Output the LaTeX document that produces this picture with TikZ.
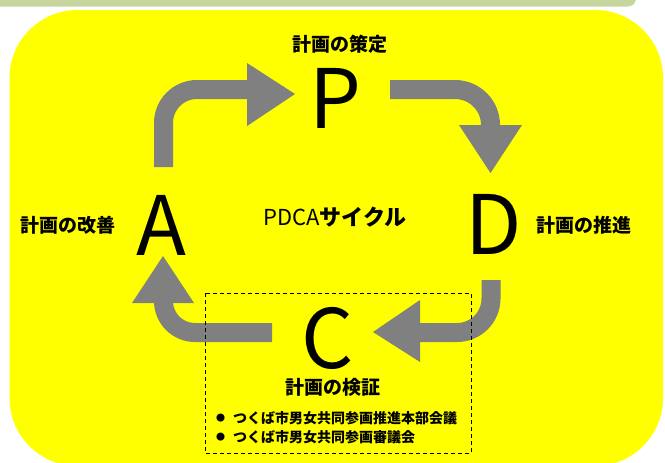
\documentclass[tikz,border=0pt]{standalone}
\usepackage{fontspec}
\newfontfamily\jp{Noto Sans CJK JP}
\definecolor{bgyellow}{RGB}{255,255,0}
\definecolor{arrowgray}{RGB}{128,128,128}
\definecolor{bargreen}{RGB}{198,214,158}
\begin{document}
\begin{tikzpicture}[x=1pt,y=-1pt,
  arrshaft/.style={draw=arrowgray,line width=19pt},
  arrhead/.style={fill=arrowgray},
  jlabel/.style={font=\jp\bfseries\fontsize{19}{19}\selectfont, inner sep=0pt},
  bigletter/.style={font=\jp\fontsize{82}{82}\selectfont, inner sep=0pt},
  bullettext/.style={font=\jp\bfseries\fontsize{14}{14}\selectfont, inner sep=0pt, anchor=west},
]
\useasboundingbox (0,0) rectangle (665,463);
\fill[bargreen, rounded corners=8pt] (-20,-20) rectangle (636,6.5);
\fill[bgyellow, rounded corners=68pt] (9.5,10) rectangle (663,466);

% letters and labels
\node[bigletter] (P) at (335,98) {P};
\node[bigletter] (D) at (494,224.5) {D};
\node[bigletter] (C) at (327.5,338.5) {C};
\node[bigletter] (A) at (161.5,225) {A};
\node[jlabel] (lp) at (339.5,44.5) {計画の策定};
\node[jlabel] (la) at (67.5,225) {計画の改善};
\node[jlabel] (ld) at (584,225) {計画の推進};
\node[jlabel] (lc) at (332.5,387.5) {計画の検証};
\node[font=\jp\fontsize{22}{22}\selectfont, inner sep=0pt] (cyc) at (335,217) {PDCA\textbf{サイクル}};

% arrows
\coordinate (ap0) at (163.5,167);
\coordinate (pd0) at (390,89.5);
\coordinate (dc0) at (491,280);
\coordinate (ca0) at (272,332.5);
\draw[arrshaft] (ap0) -- (163.5,123) .. controls (163.5,104.5) and (178.5,89.5) .. (197,89.5) -- (248,89.5);
\fill[arrhead] (247,63) -- (295,94) -- (247,126) -- cycle;
\draw[arrshaft] (pd0) -- (455,89.5) .. controls (474.6,89.5) and (490.5,105.4) .. (490.5,125) -- (490.5,126);
\fill[arrhead] (459,125) -- (522,125) -- (490.5,173) -- cycle;
\draw[arrshaft] (dc0) -- (491,298.5) .. controls (491,317.3) and (475.8,332.5) .. (457,332.5) -- (419,332.5);
\fill[arrhead] (420,300) -- (420,362) -- (373,332) -- cycle;
\draw[arrshaft] (ca0) -- (195,332.5) .. controls (177.6,332.5) and (163.5,318.4) .. (163.5,301) -- (163.5,304);
\fill[arrhead] (132,303) -- (194,303) -- (163,256) -- cycle;

% dashed box
\draw[line width=0.9pt, dash pattern=on 4pt off 3pt] (205,293) rectangle (471,453);
\node[bullettext] (b1) at (233,418) {\llap{\raisebox{2pt}{\fontsize{9}{9}\selectfont ●}\hspace{8pt}}つくば市男女共同参画推進本部会議};
\node[bullettext] (b2) at (233,437.5) {\llap{\raisebox{2pt}{\fontsize{9}{9}\selectfont ●}\hspace{8pt}}つくば市男女共同参画審議会};
\end{tikzpicture}
\end{document}
